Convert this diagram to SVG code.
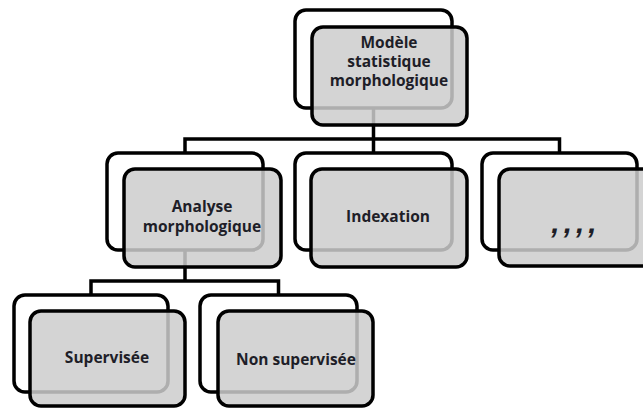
<svg xmlns="http://www.w3.org/2000/svg" width="643" height="408" viewBox="0 0 643 408">
<style>
.back{fill:#ffffff;stroke:#000;stroke-width:3.5}
.front{fill:#cccccc;fill-opacity:0.85;stroke:#000;stroke-width:3.5}
.lbl{font-family:"Open Sans","Liberation Sans",sans-serif;font-weight:700;font-size:15.5px;fill:#1e1e28;text-anchor:middle}
.conn{fill:none;stroke:#000;stroke-width:3.5}
</style>
<rect width="643" height="408" fill="#fff"/>
<g id="connectors">
<path class="conn" d="M373.5,108 V153 M185,153 V139 H559.5 V153"/>
<path class="conn" d="M185,250 V281 M91,295 V281 H278.5 V295"/>
</g>
<g id="node-modele">
<rect class="back" x="295" y="10" width="157" height="98" rx="11"/>
<rect class="front" x="312" y="27" width="155" height="98" rx="11"/>
<text class="lbl" x="389" y="48">Modèle</text>
<text class="lbl" x="389" y="67">statistique</text>
<text class="lbl" x="389" y="86">morphologique</text>
</g>
<g id="node-analyse">
<rect class="back" x="107" y="153" width="156" height="97" rx="11"/>
<rect class="front" x="124" y="169" width="157" height="98" rx="11"/>
<text class="lbl" x="202" y="212">Analyse</text>
<text class="lbl" x="202" y="232">morphologique</text>
</g>
<g id="node-indexation">
<rect class="back" x="295" y="153" width="157" height="97" rx="11"/>
<rect class="front" x="311" y="169" width="156" height="98" rx="11"/>
<text class="lbl" x="388" y="222">Indexation</text>
</g>
<g id="node-etc">
<rect class="back" x="482" y="153" width="155" height="97" rx="11"/>
<rect class="front" x="499" y="169" width="156" height="97" rx="11"/>
<text class="lbl" x="576" y="233" style="font-family:'Liberation Sans',sans-serif;font-style:italic;font-size:30px;letter-spacing:4px">,,,,</text>
</g>
<g id="node-supervisee">
<rect class="back" x="14" y="295" width="154" height="97" rx="11"/>
<rect class="front" x="30" y="311" width="155" height="95" rx="11"/>
<text class="lbl" x="107" y="363">Supervisée</text>
</g>
<g id="node-non-supervisee">
<rect class="back" x="200" y="295" width="157" height="97" rx="11"/>
<rect class="front" x="218" y="311" width="155" height="95" rx="11"/>
<text class="lbl" x="296" y="365">Non supervisée</text>
</g>
</svg>
